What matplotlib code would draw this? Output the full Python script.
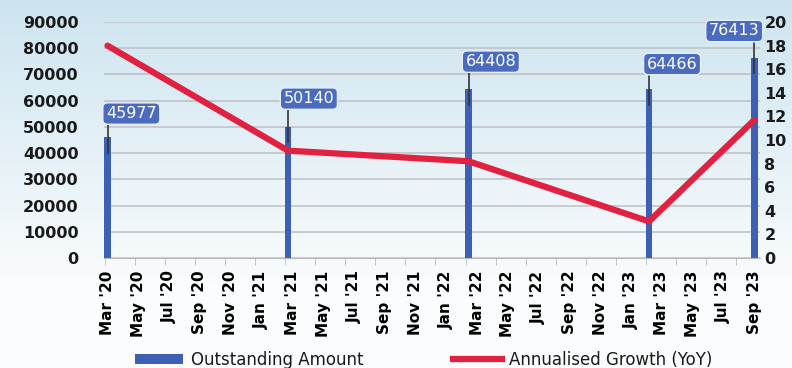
import numpy as np
import matplotlib
matplotlib.use("Agg")
import matplotlib.pyplot as plt
from matplotlib.patches import Patch
from matplotlib.lines import Line2D

# monthly axis Mar '20 .. Sep '23, labelled every 2 months
tick_labels = [
    "Mar '20", "May '20", "Jul '20", "Sep '20", "Nov '20", "Jan '21",
    "Mar '21", "May '21", "Jul '21", "Sep '21", "Nov '21", "Jan '22",
    "Mar '22", "May '22", "Jul '22", "Sep '22", "Nov '22", "Jan '23",
    "Mar '23", "May '23", "Jul '23", "Sep '23",
]
# month index from Mar '20 (last bar sits at the axis end)
bar_months = [0, 12, 24, 36, 43]
outstanding = [45977, 50140, 64408, 64466, 76413]
growth = [18.0, 9.1, 8.2, 3.1, 11.7]

BLUE = "#3d5fb4"
LABEL_BLUE = "#4a6bbf"
RED = "#e2203f"
BAR_W = 0.45

fig = plt.figure(figsize=(7.92, 3.68), dpi=100)

# light blue gradient background
bg = fig.add_axes([0, 0, 1, 1], zorder=-10)
top = np.array([205, 228, 240]) / 255
bot = np.array([250, 252, 253]) / 255
tt = np.clip(np.linspace(0, 1, 256) * 1.3, 0, 1)[:, None, None]
grad = top[None, None, :] * (1 - tt) + bot[None, None, :] * tt
bg.imshow(grad, aspect="auto", extent=[0, 1, 0, 1])
bg.set_axis_off()

ax = fig.add_axes([0.131, 0.299, 0.829, 0.641])
ax.patch.set_alpha(0)
ax2 = ax.twinx()
ax2.patch.set_alpha(0)

bx = np.array(bar_months) + 0.2
ax.bar(bx, outstanding, width=BAR_W, color=BLUE, zorder=3)
ax2.plot(bx, growth, color=RED, linewidth=4.5, solid_joinstyle="round",
         solid_capstyle="round", zorder=4)

ax.set_xlim(-0.05, 43.6)
ax.set_ylim(0, 90000)
ax2.set_ylim(0, 20)
ax.set_yticks(np.arange(0, 90001, 10000))
ax2.set_yticks(np.arange(0, 21, 2))

# small tick marks every 2 months, labels spread evenly to the last bar
ax.set_xticks(np.arange(0, 43.5, 2), minor=True)
ax.set_xticks(np.linspace(0.2, 43.2, len(tick_labels)))
ax.set_xticklabels(tick_labels, rotation=90, fontsize=11, fontweight="bold")
ax.tick_params(axis="x", which="major", length=0, pad=9)
ax.tick_params(axis="x", which="minor", length=5, color="#b8bcc0")
ax.grid(axis="y", color="#bcc0c4", linewidth=1.1, zorder=0)
ax.set_axisbelow(True)

for a in (ax, ax2):
    for s in ("top", "left", "right", "bottom"):
        a.spines[s].set_visible(False)
ax.spines["bottom"].set_visible(True)
ax.spines["bottom"].set_color("#b8bcc0")

ax.tick_params(axis="y", length=0, pad=18, labelsize=11.5)
ax2.tick_params(axis="y", length=0, pad=3, labelsize=11.5)
for lab in ax.get_yticklabels() + ax2.get_yticklabels():
    lab.set_fontweight("bold")
    lab.set_color("#1a1a1a")

# data labels with leader lines
label_y = [55100, 60800, 74900, 74000, 86600]
label_dx = [-0.1, -0.3, -0.2, -0.15, 0.35]
label_ha = ["left", "left", "left", "left", "right"]
for m, v, ly, dx, ha in zip(bx, outstanding, label_y, label_dx, label_ha):
    ax.plot([m, m], [v - 6000, ly - 4500], color="#333333", linewidth=1.2, zorder=5)
    ax.text(m + dx, ly, f"{v}", ha=ha, va="center", fontsize=11.5, color="white",
            zorder=6,
            bbox=dict(boxstyle="round,pad=0.2,rounding_size=0.3",
                      facecolor=LABEL_BLUE, edgecolor="#e8eef8", linewidth=1))

handles = [
    Patch(facecolor=BLUE, edgecolor="none", label="Outstanding Amount"),
    Line2D([0], [0], color=RED, linewidth=4.5, label="Annualised Growth (YoY)"),
]
leg = fig.legend(handles=handles, loc="center", bbox_to_anchor=(0.535, 0.022),
                 ncol=2, frameon=False, fontsize=12, handlelength=2.9,
                 handleheight=0.6, columnspacing=5.4, handletextpad=0.45)
for txt in leg.get_texts():
    txt.set_color("#1a1a1a")

fig.savefig("out.png", dpi=100)
